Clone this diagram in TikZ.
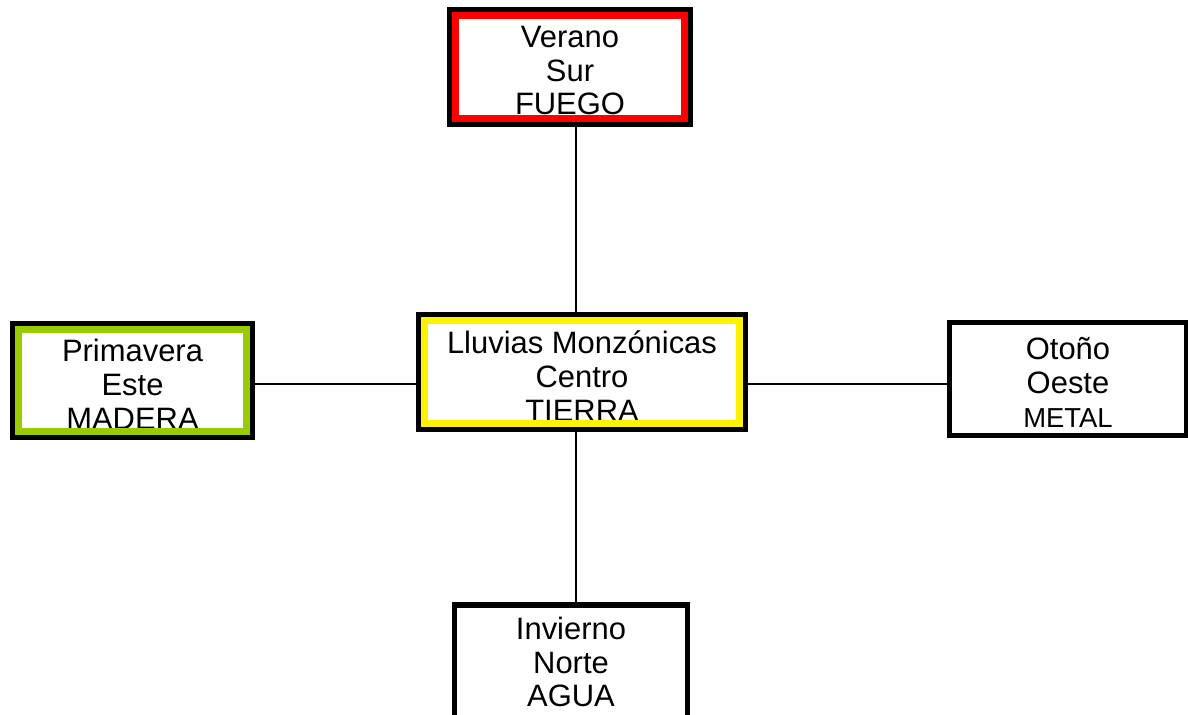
\documentclass[tikz,border=0pt]{standalone}
\usepackage{fontspec}
\setmainfont{Liberation Sans}
\usetikzlibrary{positioning}
\definecolor{madera}{RGB}{153,204,0}
\tikzset{
  caja/.style={draw=black, fill=white, line width=3.9pt, inner sep=0pt, outer sep=0pt},
  marco/.style={line width=5pt},
  texto/.style={align=center, inner sep=0pt, font=\fontsize{22pt}{24pt}\selectfont},
  enlace/.style={line width=0.8pt}
}
\begin{document}
\begin{tikzpicture}[x=0.025cm, y=-0.025cm]
  \useasboundingbox (0,0) rectangle (1188,715);
  \node[caja, minimum width=6.03cm, minimum height=2.88cm] (verano) at (570,67) {};
  \node[caja, minimum width=8.18cm, minimum height=2.88cm] (centro) at (582,372) {};
  \node[caja, minimum width=6.0cm, minimum height=2.85cm] (primavera) at (132.5,380.5) {};
  \node[caja, minimum width=5.93cm, minimum height=2.83cm] (otono) at (1068,379) {};
  \node[caja, minimum width=5.83cm, minimum height=2.85cm] (invierno) at (571,662) {};
  % textos
  \node[texto, below=0.41cm of verano.north] (verano-t) {Verano\\Sur\\FUEGO};
  \node[texto, below=0.41cm of centro.north] (centro-t) {Lluvias Monzónicas\\Centro\\TIERRA};
  \node[texto, below=0.39cm of primavera.north] (primavera-t) {Primavera\\Este\\MADERA};
  \node[texto, below=0.37cm of otono.north] (otono-t) {Otoño\\Oeste\\{\fontsize{19.5pt}{24pt}\selectfont METAL}};
  \node[texto, below=0.29cm of invierno.north] (invierno-t) {Invierno\\Norte\\AGUA};
  % marcos de color
  \foreach \n/\c in {verano/red, centro/yellow, primavera/madera}
    \draw[marco, draw=\c] ([shift={(0.156cm,0.156cm)}]\n.south west) rectangle ([shift={(-0.156cm,-0.156cm)}]\n.north east);
  % enlaces
  \coordinate (eje) at (576,384);
  \draw[enlace] (verano.south -| eje) -- (centro.north -| eje);
  \draw[enlace] (centro.south -| eje) -- (invierno.north -| eje);
  \draw[enlace] (primavera.east |- eje) -- (centro.west |- eje);
  \draw[enlace] (centro.east |- eje) -- (otono.west |- eje);
\end{tikzpicture}
\end{document}
